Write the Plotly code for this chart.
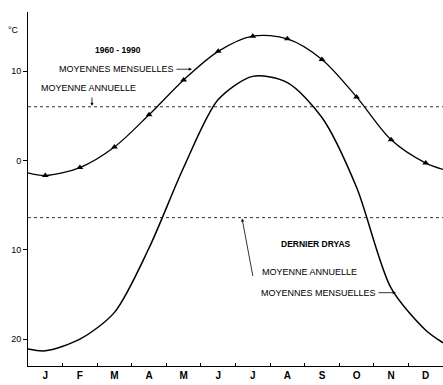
import plotly.graph_objects as go

# ---- data ----
months = ["J", "F", "M", "A", "M", "J", "J", "A", "S", "O", "N", "D"]
month_pos = list(range(12))
# 1960-1990 monthly means (°C)
recent_monthly = [-1.7, -0.8, 1.5, 5.1, 9.0, 12.2, 13.9, 13.6, 11.3, 7.1, 2.3, -0.3]
recent_edges = [-1.4, -1.0]          # values at year start / year end
recent_annual = 6.0
# Dernier Dryas monthly means (°C)
dryas_monthly = [-21.3, -20.0, -17.0, -9.8, -0.8, 6.8, 9.4, 8.7, 4.8, -3.0, -14.3, -19.0]
dryas_edges = [-21.1, -20.4]
dryas_annual = -6.4

y_tickvals = [10, 0, -10, -20]
y_ticktext = ["10", "0", "10", "20"]

X0, X1 = -0.5, 11.5
FONT = "Liberation Sans"

fig = go.Figure()

# annual means (dotted)
for v in (recent_annual, dryas_annual):
    fig.add_trace(go.Scatter(x=[X0, X1], y=[v, v], mode="lines",
                             line=dict(color="#333", width=1, dash="dot"),
                             hoverinfo="skip", showlegend=False))

# recent curve
fig.add_trace(go.Scatter(x=[X0] + month_pos + [X1],
                         y=[recent_edges[0]] + recent_monthly + [recent_edges[1]],
                         mode="lines", line=dict(color="black", width=1.3, shape="spline",
                                                 smoothing=0.9),
                         showlegend=False))
fig.add_trace(go.Scatter(x=month_pos, y=recent_monthly, mode="markers",
                         marker=dict(symbol="triangle-up", size=6, color="black"),
                         showlegend=False))
# Dryas curve
fig.add_trace(go.Scatter(x=[X0] + month_pos + [X1],
                         y=[dryas_edges[0]] + dryas_monthly + [dryas_edges[1]],
                         mode="lines", line=dict(color="black", width=1.5, shape="spline",
                                                 smoothing=0.8),
                         showlegend=False))

ann = []
def txt(x, y, t, bold=False, size=9, xanchor="center"):
    ann.append(dict(x=x, y=y, xref="x", yref="y", text=(f"<b>{t}</b>" if bold else t),
                    showarrow=False, xanchor=xanchor, yanchor="middle",
                    font=dict(family=FONT, size=size, color="black")))

def arrow(x0, y0, x1, y1):
    ann.append(dict(x=x1, y=y1, ax=x0, ay=y0, xref="x", yref="y", axref="x", ayref="y",
                    text="", showarrow=True, arrowhead=2, arrowsize=0.8, arrowwidth=0.8,
                    arrowcolor="black"))

txt(2.10, 12.4, "1960 - 1990", bold=True, size=8.5)
txt(2.07, 10.2, "MOYENNES MENSUELLES")
arrow(3.75, 10.2, 4.24, 10.2)
txt(1.24, 8.1, "MOYENNE ANNUELLE")
arrow(1.35, 7.2, 1.35, 6.1)
txt(7.83, -9.4, "DERNIER DRYAS", bold=True, size=8.5)
txt(7.63, -12.5, "MOYENNE ANNUELLE")
arrow(6.01, -13.1, 5.69, -6.5)
txt(7.89, -14.8, "MOYENNES MENSUELLES")
arrow(9.59, -14.8, 10.14, -14.8)

ann.append(dict(x=-0.036, y=14.6, xref="paper", yref="y", text="°C", showarrow=False,
                xanchor="center", yanchor="middle",
                font=dict(family=FONT, size=9, color="black")))

fig.update_layout(
    width=443, height=385,
    margin=dict(l=28, r=0, t=12, b=19),
    paper_bgcolor="white", plot_bgcolor="white",
    annotations=ann,
    xaxis=dict(range=[X0, X1], tickvals=month_pos, ticktext=[f"<b>{m}</b>" for m in months],
               showgrid=False, zeroline=False, showline=True, linecolor="black", linewidth=1,
               ticks="", automargin=False, tickfont=dict(family=FONT, size=10, color="black"),
               minor=dict(tickvals=[m + 0.5 for m in month_pos[:-1]], ticks="inside",
                          ticklen=3, tickcolor="black")),
    yaxis=dict(range=[-23.0, 16.6], tickvals=y_tickvals, ticktext=y_ticktext,
               showgrid=False, zeroline=False, showline=True, linecolor="black", linewidth=1,
               ticks="outside", ticklen=4, tickcolor="black", automargin=False,
               tickfont=dict(family=FONT, size=9, color="black")),
)

fig.write_html("out.html", config={"displayModeBar": False},
               post_script="document.body.style.margin='0';")
